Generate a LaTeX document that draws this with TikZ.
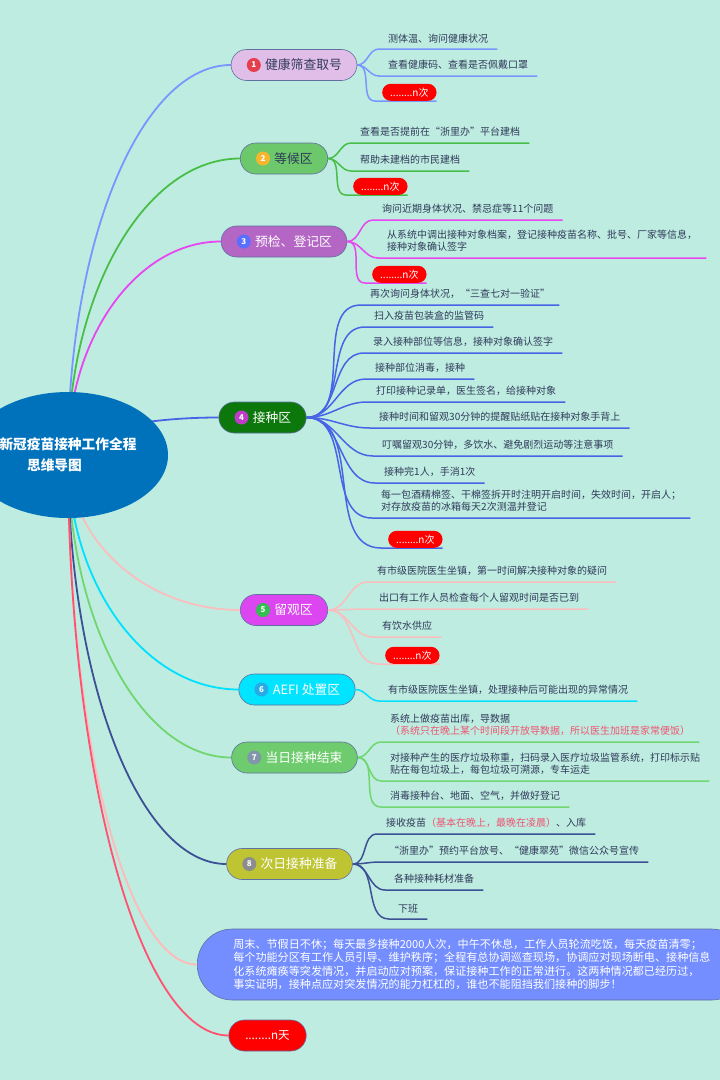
\documentclass[tikz,border=0pt]{standalone}
\usepackage{fontspec}
\setmainfont{Noto Sans CJK SC}
\usetikzlibrary{calc,shapes.geometric}

\definecolor{bgcol}{RGB}{190,236,224}
\definecolor{rootcol}{RGB}{0,114,187}
\definecolor{edgecol}{RGB}{96,112,160}
\definecolor{leafcol}{RGB}{48,58,90}
\definecolor{redtxt}{RGB}{240,84,116}
% branch lines
\definecolor{c1}{RGB}{120,150,255}
\definecolor{c2}{RGB}{72,190,72}
\definecolor{c3}{RGB}{232,70,240}
\definecolor{c4}{RGB}{72,100,230}
\definecolor{c5}{RGB}{250,190,190}
\definecolor{c6}{RGB}{0,225,255}
\definecolor{c7}{RGB}{112,214,112}
\definecolor{c8}{RGB}{60,80,150}
\definecolor{c9}{RGB}{255,185,185}
\definecolor{c10}{RGB}{255,82,112}
% branch fills
\definecolor{f1}{RGB}{224,190,232}
\definecolor{f2}{RGB}{108,200,106}
\definecolor{f3}{RGB}{180,102,196}
\definecolor{f4}{RGB}{12,120,12}
\definecolor{f5}{RGB}{220,70,240}
\definecolor{f6}{RGB}{0,228,255}
\definecolor{f7}{RGB}{110,204,110}
\definecolor{f8}{RGB}{190,196,50}
\definecolor{f9}{RGB}{116,142,255}
% badges
\definecolor{bc1}{RGB}{229,62,76}
\definecolor{bc2}{RGB}{248,181,46}
\definecolor{bc3}{RGB}{90,110,255}
\definecolor{bc4}{RGB}{190,60,200}
\definecolor{bc5}{RGB}{50,190,80}
\definecolor{bc6}{RGB}{40,170,230}
\definecolor{bc7}{RGB}{130,150,170}
\definecolor{bc8}{RGB}{140,140,140}

\pgfdeclarelayer{background}
\pgfsetlayers{background,main}

\tikzset{
    root/.style = {ellipse, fill=rootcol, text=white, minimum width=200pt, minimum height=126pt,
        inner sep=0pt, align=center, font=\fontsize{13.7}{21}\selectfont\bfseries},
    main/.style = {draw=edgecol, line width=0.6pt, rounded corners=15.5pt, minimum height=31pt,
        inner xsep=15pt, inner ysep=0pt, text=white, font=\fontsize{12.8}{15}\selectfont},
    badge/.style = {circle, fill=#1, text=white, minimum size=14pt, inner sep=0pt,
        font=\fontsize{8}{8}\selectfont\bfseries},
    leaf/.style = {anchor=south west, inner xsep=9pt, inner ysep=6pt, text=leafcol, align=left,
        font=\fontsize{10}{12.5}\selectfont},
    countpill/.style = {anchor=south west, fill=red, text=white, rounded corners=8.5pt,
        minimum height=17pt, inner xsep=8pt, inner ysep=0pt, font=\fontsize{10}{10}\selectfont},
    note/.style = {anchor=west, draw=edgecol, line width=0.6pt, fill=f9, text=white,
        rounded corners=35pt, minimum height=71pt, inner xsep=36pt, align=left,
        font=\fontsize{11.1}{13.4}\selectfont},
    spoke/.style = {line width=1.8pt, to path={.. controls ($(\tikztostart)!0.55!(\tikztostart |- \tikztotarget)$)
        and ($(\tikztotarget)!0.55!(\tikztostart |- \tikztotarget)$) .. (\tikztotarget)}},
    twig/.style = {line width=1.5pt},
}

\begin{document}
\begin{tikzpicture}[x=1pt, y=-1pt]
    \useasboundingbox (0,0) rectangle (720,1080);

    \node[root] (root) at (68,455) {新冠疫苗接种工作全程\\\hspace*{-27pt}思维导图};

    % main branches
    \node[main, fill=f1, text=leafcol] (n1) at (294,65) {\hspace{19pt}健康筛查取号};
    \node[main, fill=f2, text=leafcol] (n2) at (284,158.5) {\hspace{19pt}等候区};
    \node[main, fill=f3] (n3) at (284,241.5) {\hspace{19pt}预检、登记区};
    \node[main, fill=f4] (n4) at (262.5,417.5) {\hspace{19pt}接种区};
    \node[main, fill=f5] (n5) at (284,610) {\hspace{19pt}留观区};
    \node[main, fill=f6] (n6) at (297,689.5) {\hspace{19pt}AEFI 处置区};
    \node[main, fill=f7] (n7) at (294.5,757.5) {\hspace{19pt}当日接种结束};
    \node[main, fill=f8] (n8) at (289.5,864) {\hspace{19pt}次日接种准备};
    \node[note] (note) at (197,964.5) {周末、节假日不休；每天最多接种2000人次，中午不休息，工作人员轮流吃饭，每天疫苗清零；\\
        每个功能分区有工作人员引导、维护秩序；全程有总协调巡查现场，协调应对现场断电、接种信息\\
        化系统瘫痪等突发情况，并启动应对预案，保证接种工作的正常进行。这两种情况都已经历过，\\
        事实证明，接种点应对突发情况的能力杠杠的，谁也不能阻挡我们接种的脚步！};
    \node[main, fill=red, inner xsep=16.5pt, font=\fontsize{11.6}{12}\selectfont] (nday) at (267.5,1035.5) {........n天};

    \node[badge=bc1] (b1) at ([xshift=23pt]n1.west) {1};
    \node[badge=bc2] (b2) at ([xshift=23pt]n2.west) {2};
    \node[badge=bc3] (b3) at ([xshift=23pt]n3.west) {3};
    \node[badge=bc4] (b4) at ([xshift=23pt]n4.west) {4};
    \node[badge=bc5] (b5) at ([xshift=23pt]n5.west) {5};
    \node[badge=bc6] (b6) at ([xshift=23pt]n6.west) {6};
    \node[badge=bc7] (b7) at ([xshift=23pt]n7.west) {7};
    \node[badge=bc8] (b8) at ([xshift=23pt]n8.west) {8};

    % 1 health check
    \node[leaf] (l11) at (379,49) {测体温、询问健康状况};
    \node[leaf] (l12) at (379,76) {查看健康码、查看是否佩戴口罩};
    \node[countpill] (p13) at (382,101) {........n次};

    % 2 waiting
    \node[leaf] (l21) at (351,143) {查看是否提前在“浙里办”平台建档};
    \node[leaf] (l22) at (351,171) {帮助未建档的市民建档};
    \node[countpill] (p23) at (353,195) {........n次};

    % 3 pre-check
    \node[leaf] (l31) at (373,220) {询问近期身体状况、禁忌症等11个问题};
    \node[leaf] (l32) at (378,258) {从系统中调出接种对象档案，登记接种疫苗名称、批号、厂家等信息，\\接种对象确认签字};
    \node[countpill] (p33) at (372,283) {........n次};

    % 4 vaccination
    \node[leaf] (l41) at (361,305) {再次询问身体状况，“三查七对一验证”};
    \node[leaf] (l42) at (365,327) {扫入疫苗包装盒的监管码};
    \node[leaf] (l43) at (364,353) {录入接种部位等信息，接种对象确认签字};
    \node[leaf] (l44) at (366,379) {接种部位消毒，接种};
    \node[leaf] (l45) at (367,402) {打印接种记录单，医生签名，给接种对象};
    \node[leaf] (l46) at (370,428) {接种时间和留观30分钟的提醒贴纸贴在接种对象手背上};
    \node[leaf] (l47) at (373,456) {叮嘱留观30分钟，多饮水、避免剧烈运动等注意事项};
    \node[leaf] (l48) at (375,483) {接种完1人，手消1次};
    \node[leaf] (l49) at (372,518) {每一包酒精棉签、干棉签拆开时注明开启时间，失效时间，开启人；\\对存放疫苗的冰箱每天2次测温并登记};
    \node[countpill] (p40) at (388,548) {........n次};

    % 5 observation
    \node[leaf] (l51) at (368,582) {有市级医院医生坐镇，第一时间解决接种对象的疑问};
    \node[leaf] (l52) at (370,609) {出口有工作人员检查每个人留观时间是否已到};
    \node[leaf] (l53) at (373,637) {有饮水供应};
    \node[countpill] (p54) at (385,664) {........n次};

    % 6 AEFI
    \node[leaf] (l61) at (379,701) {有市级医院医生坐镇，处理接种后可能出现的异常情况};

    % 7 end of day
    \node[leaf] (l71) at (381,742) {系统上做疫苗出库，导数据\\{\color{redtxt}（系统只在晚上某个时间段开放导数据，所以医生加班是家常便饭）}};
    \node[leaf] (l72) at (381,781) {对接种产生的医疗垃圾称重，扫码录入医疗垃圾监管系统，打印标示贴\\贴在每包垃圾上，每包垃圾可溯源，专车运走};
    \node[leaf] (l73) at (381,807) {消毒接种台、地面、空气，并做好登记};

    % 8 next day
    \node[leaf] (l81) at (377,834) {接收疫苗{\color{redtxt}（基本在晚上，最晚在凌晨）}、入库};
    \node[leaf] (l82) at (380,862) {“浙里办”预约平台放号、“健康翠苑”微信公众号宣传};
    \node[leaf] (l83) at (385,890) {各种接种耗材准备};
    \node[leaf] (l84) at (389,919) {下班};

    \begin{pgfonlayer}{background}
        \fill[bgcol] (0,0) rectangle (720,1080);

        \draw[spoke, c1] (root.center) to (n1.west);
        \draw[spoke, c2] (root.center) to (n2.west);
        \draw[spoke, c3] (root.center) to (n3.west);
        \draw[spoke, c4] (root.center) to (n4.west);
        \draw[spoke, c5] (root.center) to (n5.west);
        \draw[spoke, c6] (root.center) to (n6.west);
        \draw[spoke, c7] (root.center) to (n7.west);
        \draw[spoke, c8] (root.center) to (n8.west);
        \draw[spoke, c9] (root.center) to (note.west);
        \draw[spoke, c10] (root.center) to (nday.west);

        \foreach \l in {l11,l12}
            \draw[twig, c1] (n1.east) to[out=0,in=180] (\l.south west) -- (\l.south east);
        \draw[twig, c1] (n1.east) to[out=0,in=180] ([xshift=-7pt]p13.south west) -- (p13.south east);

        \foreach \l in {l21,l22}
            \draw[twig, c2] (n2.east) to[out=0,in=180] (\l.south west) -- (\l.south east);
        \draw[twig, c2] (n2.east) to[out=0,in=180] ([xshift=-7pt]p23.south west) -- (p23.south east);

        \foreach \l in {l31,l32}
            \draw[twig, c3] (n3.east) to[out=0,in=180] (\l.south west) -- (\l.south east);
        \draw[twig, c3] (n3.east) to[out=0,in=180] ([xshift=-7pt]p33.south west) -- (p33.south east);

        \foreach \l in {l41,l42,l43,l44,l45,l46,l47,l48,l49}
            \draw[twig, c4] (n4.east) to[out=0,in=180] (\l.south west) -- (\l.south east);
        \draw[twig, c4] (n4.east) to[out=0,in=180] ([xshift=-7pt]p40.south west) -- (p40.south east);

        \foreach \l in {l51,l52,l53}
            \draw[twig, c5] (n5.east) to[out=0,in=180] (\l.south west) -- (\l.south east);
        \draw[twig, c5] (n5.east) to[out=0,in=180] ([xshift=-7pt]p54.south west) -- (p54.south east);

        \draw[twig, c6] (n6.east) to[out=0,in=180] (l61.south west) -- (l61.south east);

        \foreach \l in {l71,l72,l73}
            \draw[twig, c7] (n7.east) to[out=0,in=180] (\l.south west) -- (\l.south east);

        \foreach \l in {l81,l82,l83,l84}
            \draw[twig, c8] (n8.east) to[out=0,in=180] (\l.south west) -- (\l.south east);
    \end{pgfonlayer}
\end{tikzpicture}
\end{document}
